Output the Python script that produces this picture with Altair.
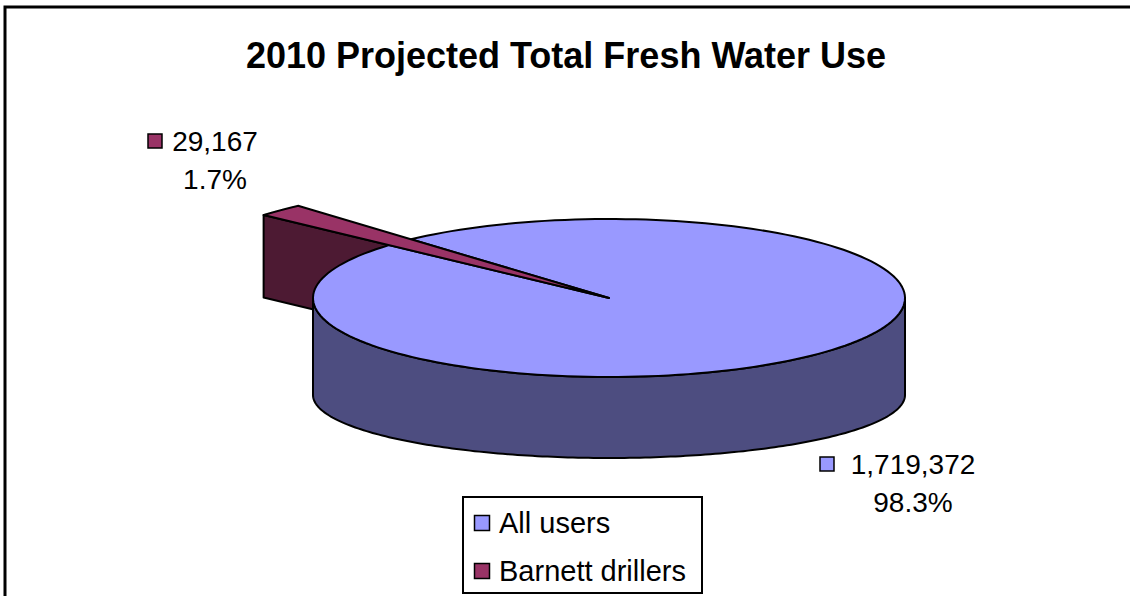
import altair as alt
import pandas as pd

# ---- data ----
categories = ["All users", "Barnett drillers"]
values = [1719372, 29167]
title_text = "2010 Projected Total Fresh Water Use"
colors_top = ["#9999FF", "#993366"]
colors_side = ["#4D4D80", "#4D1A33"]

# ---- layout / style parameters (pixels and unit geometry) ----
W, H = 1130, 596
CX, CY, RX = 609, 298, 296          # pie centre and horizontal radius in px
RY = 79 / RX                        # top ellipse flattening
RYB = 63 / RX                       # bottom ellipse flattening
TB = 97 / RX                        # drop of the bottom ellipse centre
ROT = 318                           # first-slice start angle (deg, clockwise from 12 o'clock)
EXPLODE = 1.57                      # radial stretch of the pulled-out slice
N = 180
FONT = "Liberation Sans"

xscale = alt.Scale(domain=[-CX / RX, (W - CX) / RX], nice=False, zero=False)
yscale = alt.Scale(domain=[-(H - CY) / RX, CY / RX], nice=False, zero=False)

df = pd.DataFrame({"category": categories, "value": values, "idx": list(range(len(values)))})

pie = (
    alt.Chart(df)
    .transform_joinaggregate(total="sum(value)")
    .transform_window(cum="sum(value)", sort=[alt.SortField("idx")], frame=[None, 0])
    .transform_calculate(
        a1=f"{ROT} + 360*(datum.cum - datum.value)/datum.total",
        a2=f"{ROT} + 360*datum.cum/datum.total",
        rr=f"datum.idx == 1 ? {EXPLODE} : 1",
    )
)

X = alt.X("px:Q", scale=xscale, axis=None)
Y = alt.Y("py:Q", scale=yscale, axis=None)

# radial side face of the pulled-out slice
slice_side = (
    pie.transform_filter("datum.idx == 1")
    .transform_calculate(k="sequence(0, 4)")
    .transform_flatten(["k"])
    .transform_calculate(
        ang="datum.a1*PI/180",
        r="(datum.k == 0 || datum.k == 3) ? datum.rr : 0",
    )
    .transform_calculate(
        px="datum.r*sin(datum.ang)",
        py=f"datum.r*{RY}*cos(datum.ang) - (datum.k >= 2 ? {TB}*0.85 : 0)",
    )
    .mark_line(interpolate="linear-closed", fill=colors_side[1], stroke="black",
               strokeWidth=2, strokeJoin="round")
    .encode(x=X, y=Y, order=alt.Order("k:Q"))
)

# front wall of the main body
wall = (
    pie.transform_filter("datum.idx == 0")
    .transform_calculate(k=f"sequence(0, {N + 1})")
    .transform_flatten(["k"])
    .transform_calculate(ang=f"(90 + 180*datum.k/{N})*PI/180")
    .transform_calculate(
        px="sin(datum.ang)",
        py=f"{RY}*cos(datum.ang)",
        py2=f"{RYB}*cos(datum.ang) - {TB}",
    )
    .mark_area(fill=colors_side[0], stroke="black", strokeWidth=2, strokeJoin="round")
    .encode(x=X, y=Y, y2="py2:Q")
)


def top_face(i):
    return (
        pie.transform_filter(f"datum.idx == {i}")
        .transform_calculate(k=f"sequence(-1, {N + 1})")
        .transform_flatten(["k"])
        .transform_calculate(ang=f"(datum.a1 + (datum.a2 - datum.a1)*max(datum.k, 0)/{N})*PI/180")
        .transform_calculate(
            px="datum.k < 0 ? 0 : datum.rr*sin(datum.ang)",
            py=f"datum.k < 0 ? 0 : datum.rr*{RY}*cos(datum.ang)",
        )
        .mark_line(interpolate="linear-closed", fill=colors_top[i], stroke="black",
                   strokeWidth=2, strokeJoin="round")
        .encode(x=X, y=Y, order=alt.Order("k:Q"))
    )


one = pd.DataFrame({"t": [title_text]})

border = alt.Chart(one).mark_rect(fillOpacity=0, stroke="black", strokeWidth=3).encode(
    x=alt.value(5), x2=alt.value(1140), y=alt.value(7), y2=alt.value(640))

title = alt.Chart(one).mark_text(font=FONT, fontSize=36, fontWeight="bold", baseline="alphabetic",
                                 align="center").encode(
    x=alt.value(566), y=alt.value(68), text="t:N")

# data labels
label_pos = {0: (913, 474, 512), 1: (215, 151, 189)}


def data_label(i):
    cx, yb1, yb2 = label_pos[i]
    base = (
        alt.Chart(df)
        .transform_joinaggregate(total="sum(value)")
        .transform_filter(f"datum.idx == {i}")
        .transform_calculate(l1="format(datum.value, ',')",
                             l2="format(datum.value/datum.total, '.1%')")
    )
    t1 = base.mark_text(font=FONT, fontSize=28, align="center", baseline="alphabetic").encode(
        x=alt.value(cx), y=alt.value(yb1), text="l1:N")
    t2 = base.mark_text(font=FONT, fontSize=28, align="center", baseline="alphabetic").encode(
        x=alt.value(cx), y=alt.value(yb2), text="l2:N")
    sq_x = cx - 60 if i == 1 else cx - 86
    sq = base.mark_square(size=196, fill=colors_top[i], stroke="black", strokeWidth=1.5,
                          opacity=1).encode(x=alt.value(sq_x), y=alt.value(yb1 - 10))
    return t1 + t2 + sq


# legend box
legend_box = alt.Chart(one).mark_rect(fill="white", stroke="black", strokeWidth=2).encode(
    x=alt.value(463), x2=alt.value(702), y=alt.value(497), y2=alt.value(593))


def legend_item(i):
    yb = 533 + 48 * i
    base = alt.Chart(df).transform_filter(f"datum.idx == {i}")
    sq = base.mark_square(size=225, fill=colors_top[i], stroke="black", strokeWidth=1.5,
                          opacity=1).encode(x=alt.value(482), y=alt.value(yb - 10))
    tx = base.mark_text(font=FONT, fontSize=29, align="left", baseline="alphabetic").encode(
        x=alt.value(499), y=alt.value(yb), text="category:N")
    return sq + tx


chart = alt.layer(
    border, title,
    slice_side, wall, top_face(0), top_face(1),
    data_label(0), data_label(1),
    legend_box, legend_item(0), legend_item(1),
).properties(
    width=W, height=H, padding=0, autosize="none", background="white"
).configure_view(stroke=None)

chart.save("out.html", embed_options={"renderer": "svg", "actions": False})
